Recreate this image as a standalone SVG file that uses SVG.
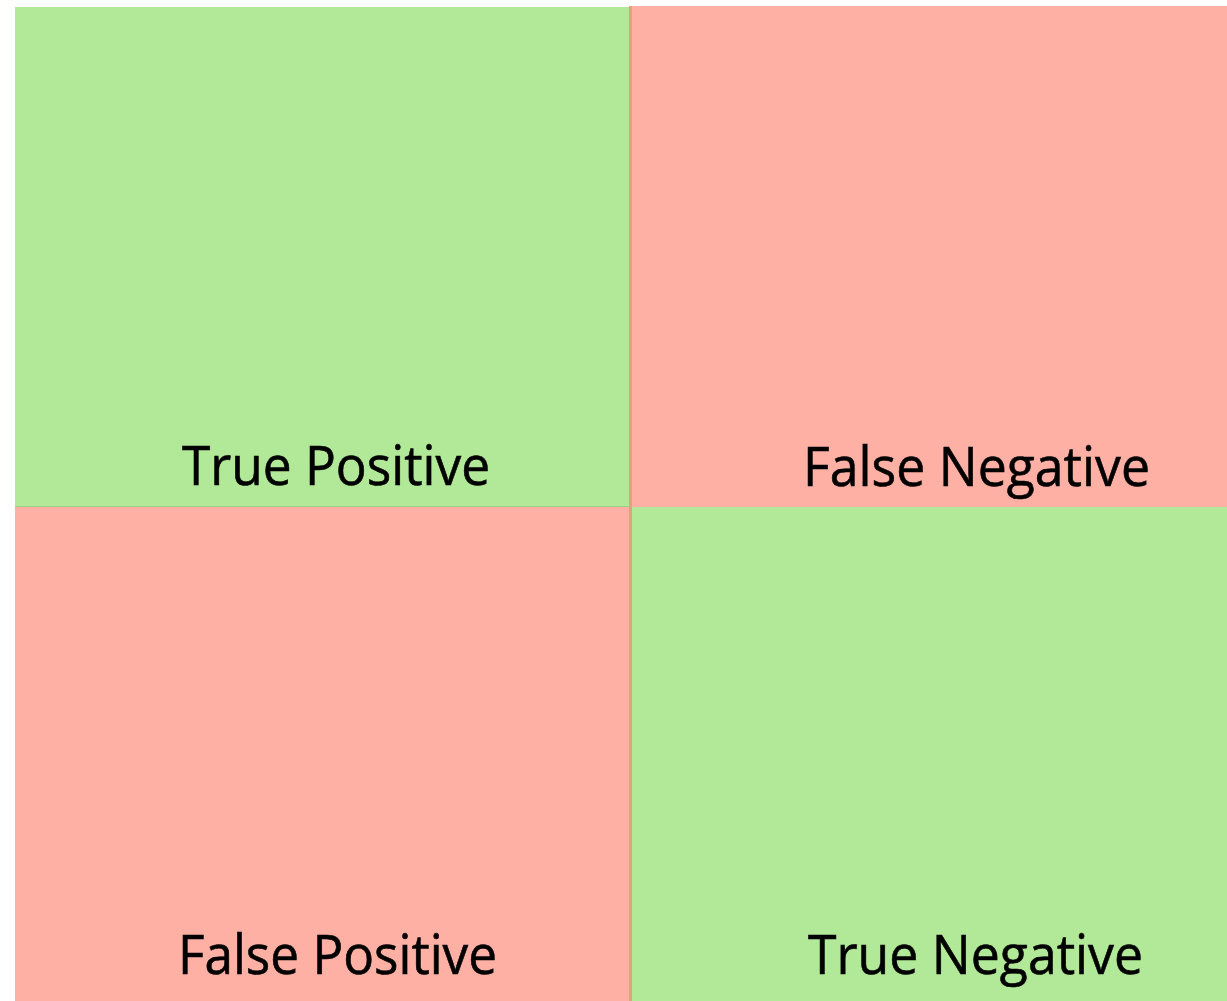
<svg xmlns="http://www.w3.org/2000/svg" width="1227" height="1001" viewBox="0 0 1227 1001">
<style>
.g{fill:#b2e998}
.r{fill:#ffb0a5}
.sep{fill:#d9a878}
.lbl{font-family:"Open Sans","Liberation Sans",sans-serif;font-size:54px;fill:#000;stroke:#000;stroke-width:0.6}
</style>
<rect width="1227" height="1001" fill="#ffffff"/>
<g id="tp"><rect class="g" x="15" y="7" width="616" height="500"/><text class="lbl" x="182" y="485" textLength="308" lengthAdjust="spacingAndGlyphs">True Positive</text></g>
<g id="fn"><rect class="r" x="630" y="6" width="597" height="501"/><text class="lbl" x="803" y="486" textLength="347" lengthAdjust="spacingAndGlyphs">False Negative</text></g>
<g id="fp"><rect class="r" x="15" y="507" width="616" height="494"/><text class="lbl" x="178" y="974" textLength="319" lengthAdjust="spacingAndGlyphs">False Positive</text></g>
<g id="tn"><rect class="g" x="630" y="507" width="597" height="494"/><text class="lbl" x="808" y="974" textLength="335" lengthAdjust="spacingAndGlyphs">True Negative</text></g>
<g id="connectors">
<rect class="sep" x="629" y="6" width="3" height="995"/>
<rect x="15" y="506" width="614" height="1" fill="#9fcf86"/>
</g>
</svg>
